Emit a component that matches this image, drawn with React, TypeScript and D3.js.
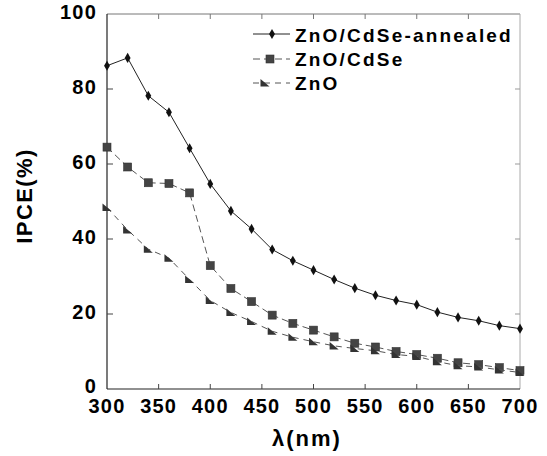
import React from "react";
import * as d3 from "d3";

const wavelengths = [300, 320, 340, 360, 380, 400, 420, 440, 460, 480, 500, 520, 540, 560, 580, 600, 620, 640, 660, 680, 700];
const annealed = [86.2, 88.3, 78.2, 73.8, 64.2, 54.7, 47.5, 42.7, 37.2, 34.2, 31.7, 29.2, 26.9, 25.0, 23.6, 22.5, 20.5, 19.1, 18.2, 16.9, 16.1];
const cdse = [64.5, 59.2, 55.0, 54.8, 52.3, 32.9, 26.8, 23.3, 19.7, 17.5, 15.7, 13.9, 12.2, 11.2, 10.0, 9.2, 8.2, 7.0, 6.5, 5.7, 4.9];
const zno = [48.4, 42.4, 37.3, 34.9, 29.2, 23.6, 20.4, 18.0, 15.4, 13.8, 12.6, 11.5, 10.8, 10.2, 9.2, 8.7, 7.3, 6.2, 5.9, 5.1, 4.4];
const xTicks = [300, 350, 400, 450, 500, 550, 600, 650, 700];
const yTicks = [0, 20, 40, 60, 80, 100];
const seriesNames = ["ZnO/CdSe-annealed", "ZnO/CdSe", "ZnO"];

const W = 547, H = 456;
const L = 107, R = 520, T = 14, B = 389;
const FONT = "'Liberation Sans', Arial, Helvetica, sans-serif";

export default function App() {
  const x = d3.scaleLinear().domain([300, 700]).range([L, R]);
  const y = d3.scaleLinear().domain([0, 100]).range([B, T]);
  const line = d3.line<number>().x((_, i) => x(wavelengths[i])).y((v) => y(v));

  const diamond = d3.symbol().type(d3.symbolDiamond).size(30)() as string;
  const tri = "M-4.5,-4 L-4.5,3.5 L4.5,3.5 Z";

  const marker = (kind: number, cx: number, cy: number, key: string) => {
    if (kind === 0) return <path key={key} d={diamond} transform={`translate(${cx},${cy})`} fill="#111" />;
    if (kind === 1) return <rect key={key} x={cx - 4} y={cy - 4} width={8} height={8} fill="#444" stroke="#333" strokeWidth={0.6} />;
    return <path key={key} d={tri} transform={`translate(${cx},${cy})`} fill="#333" />;
  };

  const data = [annealed, cdse, zno];
  const lineStyles = [
    { stroke: "#222", dash: undefined as string | undefined, w: 1 },
    { stroke: "#555", dash: "7,4", w: 1 },
    { stroke: "#555", dash: "6,5", w: 1 },
  ];

  const legendY = [34, 59, 83];
  const legendTextY = [42, 66, 89.5];
  const legendMarkerX = [272, 270, 265];

  return (
    <svg width={W} height={H} style={{ position: "absolute", left: 0, top: 0, background: "#fff" }} fontFamily={FONT}>
      <rect x={0} y={0} width={W} height={H} fill="#fff" />
      {/* frame */}
      <line x1={L} y1={T} x2={R} y2={T} stroke="#777" strokeWidth={1} />
      <line x1={R} y1={T} x2={R} y2={B} stroke="#aaa" strokeWidth={1} />
      <line x1={L} y1={T} x2={L} y2={B} stroke="#222" strokeWidth={1.2} />
      <line x1={L} y1={B} x2={R} y2={B} stroke="#222" strokeWidth={1.2} />
      {/* ticks */}
      {xTicks.slice(1, -1).map((t) => (
        <g key={"xt" + t}>
          <line x1={x(t)} x2={x(t)} y1={B} y2={B - 5} stroke="#444" />
          <line x1={x(t)} x2={x(t)} y1={T} y2={T + 5} stroke="#777" />
        </g>
      ))}
      {yTicks.slice(1, -1).map((t) => (
        <g key={"yt" + t}>
          <line x1={L} x2={L + 6} y1={y(t)} y2={y(t)} stroke="#444" />
          <line x1={R} x2={R - 5} y1={y(t)} y2={y(t)} stroke="#999" />
        </g>
      ))}
      {/* tick labels */}
      {xTicks.map((t) => (
        <text key={"xl" + t} x={x(t)} y={412.5} textAnchor="middle" fontSize={20} fontWeight="bold" letterSpacing={1.2} fill="#000">
          {t}
        </text>
      ))}
      {yTicks.map((t) => (
        <text key={"yl" + t} x={97} y={y(t) + (t === 0 ? 3.5 : 4.5)} textAnchor="end" fontSize={20} fontWeight="bold" letterSpacing={1.2} fill="#000">
          {t}
        </text>
      ))}
      {/* axis titles */}
      <text x={307} y={446} textAnchor="middle" fontSize={22} fontWeight="bold" letterSpacing={2} fill="#000">
        λ(nm)
      </text>
      <text transform="translate(32,196) rotate(-90)" textAnchor="middle" fontSize={22} fontWeight="bold" letterSpacing={1.4} fill="#000">
        IPCE(%)
      </text>
      {/* series */}
      {data.map((vals, si) => (
        <g key={"s" + si}>
          <path d={line(vals) as string} fill="none" stroke={lineStyles[si].stroke} strokeWidth={lineStyles[si].w} strokeDasharray={lineStyles[si].dash} />
          {vals.map((v, i) => marker(si, x(wavelengths[i]), y(v), `m${si}-${i}`))}
        </g>
      ))}
      {/* legend */}
      {seriesNames.map((name, si) => (
        <g key={"lg" + si}>
          <line x1={253} x2={290} y1={legendY[si]} y2={legendY[si]} stroke={lineStyles[si].stroke} strokeWidth={1} strokeDasharray={lineStyles[si].dash} />
          {marker(si, legendMarkerX[si], legendY[si], "lm" + si)}
          <text x={295} y={legendTextY[si]} fontSize={19} fontWeight="bold" letterSpacing={2.2} fill="#000">
            {name}
          </text>
        </g>
      ))}
    </svg>
  );
}
